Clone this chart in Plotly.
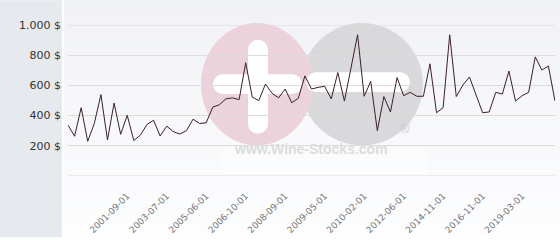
import plotly.graph_objects as go

prices = [337, 263, 452, 230, 348, 539, 239, 483, 276, 402,
          235, 271, 341, 369, 265, 330, 294, 278, 300, 376,
          348, 352, 456, 472, 511, 517, 506, 750, 522, 500,
          609, 548, 517, 576, 485, 515, 663, 576, 587, 594,
          511, 685, 496, 728, 935, 528, 626, 300, 526, 424,
          652, 532, 554, 528, 528, 743, 419, 452, 935, 526,
          602, 656, 543, 419, 424, 554, 543, 695, 496, 532,
          554, 789, 702, 728, 496]
x_index = list(range(len(prices)))

date_tick_pos = [9, 15, 21, 27, 33, 39, 45, 51, 57, 63, 69]
date_tick_labels = ["2001-09-01", "2003-07-01", "2005-06-01", "2006-10-01",
                    "2008-09-01", "2009-05-01", "2010-02-01", "2012-06-01",
                    "2014-11-01", "2016-11-01", "2019-03-01"]
y_tick_vals = [0, 200, 400, 600, 800, 1000]
y_tick_labels = ["", "200 $", "400 $", "600 $", "800 $", "1.000 $"]

W, H = 560, 240
L, R, T, B = 68, 5, 25, 62
PW, PH = W - L - R, H - T - B


def px(X):
    return (X - L) / PW


def py(Y):
    return (H - B - Y) / PH


shapes = []


def rect(X0, Y0, X1, Y1, color, opacity=1.0, kind="rect"):
    shapes.append(dict(type=kind, xref="paper", yref="paper",
                       x0=px(X0), x1=px(X1), y0=py(Y1), y1=py(Y0),
                       fillcolor=color, opacity=opacity, line=dict(width=0),
                       layer="below"))


def pill(X0, Y0, X1, Y1, color):
    w, h = X1 - X0, Y1 - Y0
    if w >= h:
        r = h / 2
        rect(X0 + r, Y0, X1 - r, Y1, color)
        rect(X0, Y0, X0 + 2 * r, Y1, color, kind="circle")
        rect(X1 - 2 * r, Y0, X1, Y1, color, kind="circle")
    else:
        r = w / 2
        rect(X0, Y0 + r, X1, Y1 - r, color)
        rect(X0, Y0, X1, Y0 + 2 * r, color, kind="circle")
        rect(X0, Y1 - 2 * r, X1, Y1, color, kind="circle")


# gradient background on the right part
n = 24
for i in range(n):
    t = i / (n - 1)
    c0 = (241, 242, 246)
    c1 = (253, 253, 254)
    c = tuple(round(c0[k] + (c1[k] - c0[k]) * t) for k in range(3))
    rect(64, i * H / n, W, (i + 1) * H / n + 0.5, "rgb(%d,%d,%d)" % c)
# left panel
rect(0, 0, 62, H, "#e6eaee")
rect(62, 0, 64, H, "#ffffff")

# watermark
rect(301, 23, 423, 147, "#d9d9db", kind="circle")
rect(201, 23, 313, 147, "#ecd3db", kind="circle")
pill(248, 40, 268, 135, "#ffffff")
pill(213, 75, 302, 95, "#ffffff")
pill(306, 73, 410, 93, "#ffffff")
rect(222, 149, 427, 176, "#ffffff", opacity=0.35)

# gridlines at the range edges (plotly drops them)
for yv in (y_tick_vals[0], y_tick_vals[-1]):
    shapes.append(dict(type="line", xref="paper", yref="y", x0=0, x1=1,
                       y0=yv, y1=yv, line=dict(color="#dcdcdc", width=1),
                       layer="below"))

fig = go.Figure()
fig.add_trace(go.Scatter(x=x_index, y=prices, mode="lines",
                         line=dict(color="#3b1f2a", width=1),
                         hoverinfo="skip", showlegend=False))

fig.update_layout(
    width=W, height=H,
    margin=dict(l=L, r=R, t=T, b=B),
    paper_bgcolor="#ffffff",
    plot_bgcolor="rgba(0,0,0,0)",
    shapes=shapes,
    showlegend=False,
    annotations=[
        dict(text="<b>www.Wine-Stocks.com</b>", xref="paper", yref="paper",
             x=px(311), y=py(161), showarrow=False,
             font=dict(family="Liberation Sans", size=14, color="#dcdcdc")),
        dict(text="®", xref="paper", yref="paper",
             x=px(412), y=py(139), showarrow=False,
             font=dict(family="Liberation Sans", size=13, color="#cccccc")),
    ],
    xaxis=dict(range=[0, len(prices) - 1], tickmode="array",
               tickvals=date_tick_pos, ticktext=date_tick_labels,
               tickangle=-45, showgrid=False, zeroline=False,
               showline=False, ticks="", ticklabelstandoff=12,
               tickfont=dict(family="DejaVu Sans", size=9, color="#777777")),
    yaxis=dict(range=[0, 1000], tickmode="array",
               tickvals=y_tick_vals, ticktext=y_tick_labels,
               showgrid=True, gridcolor="#dcdcdc", gridwidth=1,
               zeroline=False, showline=False, ticks="",
               ticklabelstandoff=6,
               tickfont=dict(family="DejaVu Sans", size=11, color="#333333")),
)

fig.write_html("out.html")
